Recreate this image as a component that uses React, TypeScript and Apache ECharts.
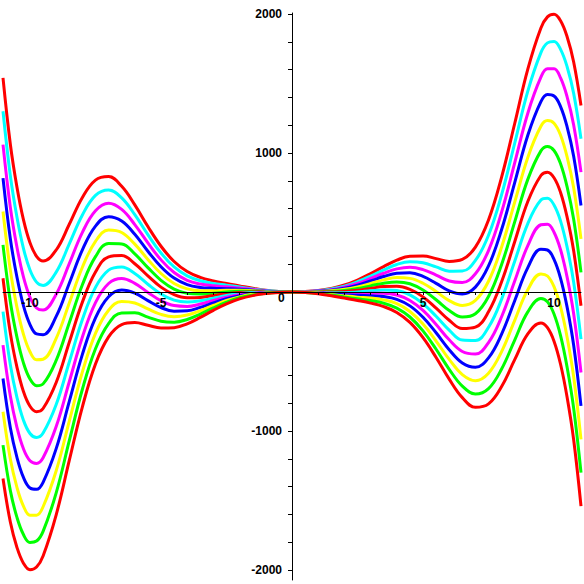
import React, { useEffect, useRef } from "react";
import * as echarts from "echarts";

const X = [-11.03,-10.75,-10.5,-10.25,-10,-9.75,-9.5,-9,-8.5,-8,-7.5,-7,-6.5,-6,-5.5,-5,-4.5,-4,-3.5,-3,-2.5,-2,-1.5,-1,-0.5,0,0.5,1,1.5,2,2.5,3,3.5,4,4.5,5,5.5,6,6.5,7,7.5,8,8.5,9,9.5,9.75,10,10.25,10.5,10.75,11.03];

const curveP12 = [1540,1063,757,520,354,257,223,302,487,680,805,830,760,627,471,329,219,147,105,80,61,44,27,12,3,0,3,11,26,50,86,132,183,229,257,259,240,220,234,323,518,826,1212,1603,1899,1979,1998,1951,1836,1655,1342];
const curveP10 = [1300,836,541,314,158,71,47,143,346,554,695,734,677,556,412,280,180,116,81,62,49,36,22,10,3,0,2,9,22,42,74,114,159,198,217,210,181,150,151,227,408,700,1070,1445,1722,1792,1802,1745,1620,1429,1102];
const curveP8 = [1060,610,325,108,-38,-115,-130,-16,204,429,584,638,594,485,353,231,140,84,57,44,37,28,18,8,2,0,2,7,17,35,61,97,135,166,178,161,122,79,68,131,298,575,929,1286,1545,1606,1606,1540,1404,1202,862];
const curveP6 = [819,383,109,-98,-234,-302,-307,-175,63,303,474,542,511,415,293,182,100,53,33,27,24,20,13,6,2,0,1,5,13,27,49,79,111,135,138,112,62,8,-14,35,187,449,787,1127,1369,1420,1410,1334,1188,976,622];
const curveP4 = [579,157,-107,-304,-430,-488,-484,-333,-79,178,364,446,428,344,234,133,61,22,9,9,12,12,9,4,1,0,1,3,9,19,37,61,87,104,98,63,3,-62,-97,-61,77,324,646,968,1192,1233,1214,1128,972,749,382];
const curveP2 = [339,-70,-323,-510,-626,-674,-661,-492,-221,52,254,349,346,274,175,84,21,-10,-15,-9,0,5,5,2,1,0,0,1,4,11,25,44,63,72,59,14,-56,-133,-180,-157,-33,198,504,810,1015,1047,1018,922,756,523,141];
const curve0 = [99,-296,-539,-716,-822,-861,-838,-651,-362,-73,143,253,263,203,116,35,-19,-41,-39,-26,-12,-3,0,1,0,0,0,-1,0,3,12,26,39,41,19,-35,-116,-203,-263,-253,-143,73,362,651,838,861,822,716,539,296,-99];
const curveM2 = [-141,-523,-756,-922,-1018,-1047,-1015,-810,-504,-198,33,157,180,133,56,-14,-59,-72,-63,-44,-25,-11,-4,-1,0,0,-1,-2,-5,-5,0,9,15,10,-21,-84,-175,-274,-346,-349,-254,-52,221,492,661,674,626,510,323,70,-339];
const curveM4 = [-382,-749,-972,-1128,-1214,-1233,-1192,-968,-646,-324,-77,61,97,62,-3,-63,-98,-104,-87,-61,-37,-19,-9,-3,-1,0,-1,-4,-9,-12,-12,-9,-9,-22,-61,-133,-234,-344,-428,-446,-364,-178,79,333,484,488,430,304,107,-157,-579];
const curveM6 = [-622,-976,-1188,-1334,-1410,-1420,-1369,-1127,-787,-449,-187,-35,14,-8,-62,-112,-138,-135,-111,-79,-49,-27,-13,-5,-1,0,-2,-6,-13,-20,-24,-27,-33,-53,-100,-182,-293,-415,-511,-542,-474,-303,-63,175,307,302,234,98,-109,-383,-819];
const curveM8 = [-862,-1202,-1404,-1540,-1606,-1606,-1545,-1286,-929,-575,-298,-131,-68,-79,-122,-161,-178,-166,-135,-97,-61,-35,-17,-7,-2,0,-2,-8,-18,-28,-37,-44,-57,-84,-140,-231,-353,-485,-594,-638,-584,-429,-204,16,130,115,38,-108,-325,-610,-1060];
const curveM10 = [-1102,-1429,-1620,-1745,-1802,-1792,-1722,-1445,-1070,-700,-408,-227,-151,-150,-181,-210,-217,-198,-159,-114,-74,-42,-22,-9,-2,0,-3,-10,-22,-36,-49,-62,-81,-116,-180,-280,-412,-556,-677,-734,-695,-554,-346,-143,-47,-71,-158,-314,-541,-836,-1300];
const curveM12 = [-1342,-1655,-1836,-1951,-1998,-1979,-1899,-1603,-1212,-826,-518,-323,-234,-220,-240,-259,-257,-229,-183,-132,-86,-50,-26,-11,-3,0,-3,-12,-27,-44,-61,-80,-105,-147,-219,-329,-471,-627,-760,-830,-805,-680,-487,-302,-223,-257,-354,-520,-757,-1063,-1540];

const CURVES = [curveP12, curveP10, curveP8, curveP6, curveP4, curveP2, curve0, curveM2, curveM4, curveM6, curveM8, curveM10, curveM12];
const COLORS = ["#ff0000", "#00ffff", "#ff00ff", "#0000ff", "#ffff00", "#00ff00", "#ff0000", "#00ffff", "#ff00ff", "#0000ff", "#ffff00", "#00ff00", "#ff0000"];

const X_TICKS = [-10, -9, -8, -7, -6, -5, -4, -3, -2, -1, 1, 2, 3, 4, 5, 6, 7, 8, 9, 10];
const X_LABELS = [-10, -5, 5, 10];
const Y_TICKS = [-2000, -1800, -1600, -1400, -1200, -1000, -800, -600, -400, -200, 200, 400, 600, 800, 1000, 1200, 1400, 1600, 1800, 2000];
const Y_LABELS = [-2000, -1000, 1000, 2000];

const FONT = "'Liberation Sans', Arial, Helvetica, sans-serif";

// grid geometry (pixels)
const G_LEFT = 3;
const G_RIGHT = 3;
const G_TOP = 13;
const G_BOTTOM = 4;
const ORIGIN_X = 292;
const ORIGIN_Y = 292;

export default function App() {
  const ref = useRef<HTMLDivElement>(null);
  useEffect(() => {
    if (!ref.current) return;
    const chart = echarts.init(ref.current, undefined, { renderer: "svg" });
    chart.setOption({
      animation: false,
      backgroundColor: "#ffffff",
      grid: {
        left: G_LEFT,
        right: G_RIGHT,
        top: G_TOP,
        bottom: G_BOTTOM,
        containLabel: false,
        outerBoundsMode: "none",
      },
      xAxis: {
        type: "value",
        position: "bottom",
        offset: -(584 - G_BOTTOM - ORIGIN_Y),
        min: -11.03,
        max: 11.03,
        z: 10,
        axisLine: { onZero: false, lineStyle: { color: "#000000", width: 1 } },
        axisTick: { show: true, length: 3, customValues: X_TICKS, lineStyle: { color: "#000000" } },
        axisLabel: {
          show: true,
          customValues: X_LABELS,
          formatter: (v: number) => String(v),
          margin: 5,
          color: "#000000",
          fontFamily: FONT,
          fontWeight: "bold",
          fontSize: 12,
        },
        splitLine: { show: false },
      },
      yAxis: {
        type: "value",
        position: "left",
        offset: -(ORIGIN_X - G_LEFT),
        min: -2072,
        max: 2007,
        z: 10,
        axisLine: { onZero: false, lineStyle: { color: "#000000", width: 1 } },
        axisTick: { show: true, length: 4, customValues: Y_TICKS, lineStyle: { color: "#000000" } },
        axisLabel: {
          show: true,
          customValues: Y_LABELS,
          formatter: (v: number) => String(v),
          margin: 10,
          color: "#000000",
          fontFamily: FONT,
          fontWeight: "bold",
          fontSize: 12,
        },
        splitLine: { show: false },
      },
      graphic: [
        {
          type: "text",
          left: 278,
          top: 292,
          z: 10,
          silent: true,
          style: { text: "0", fill: "#000000", font: `bold 12px ${FONT}` },
        },
      ],
      series: CURVES.map((vals, i) => ({
        type: "line",
        name: "c" + i,
        data: X.map((x, j) => [x, vals[j]]),
        showSymbol: false,
        smooth: 0.4,
        clip: false,
        lineStyle: { color: COLORS[i], width: 3 },
        itemStyle: { color: COLORS[i] },
        z: 2,
      })),
    });
    return () => chart.dispose();
  }, []);
  return <div ref={ref} style={{ position: "fixed", left: 0, top: 0, width: 584, height: 584 }} />;
}
